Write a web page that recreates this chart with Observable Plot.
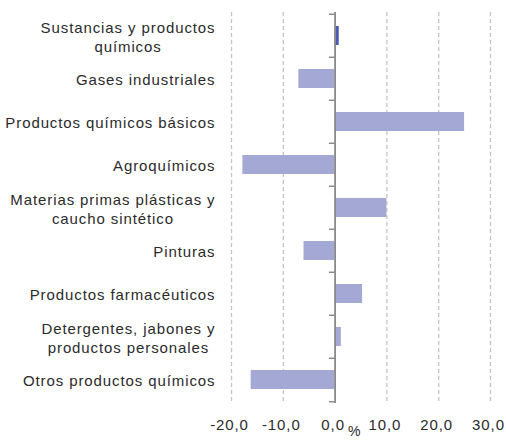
<!DOCTYPE html>
<html><head><meta charset="utf-8">
<script src="https://cdn.jsdelivr.net/npm/d3@7"></script>
<script src="https://cdn.jsdelivr.net/npm/@observablehq/plot@0.6"></script>
<style>body{margin:0;background:#fff} #chart svg{display:block}</style>
</head><body><div id="chart"></div>
<script>
const categories = [
  "Sustancias y productos\nquímicos",
  "Gases industriales",
  "Productos químicos básicos",
  "Agroquímicos",
  "Materias primas plásticas y\ncaucho sintético",
  "Pinturas",
  "Productos farmacéuticos",
  "Detergentes, jabones y\nproductos personales",
  "Otros productos químicos"
];
const values = [0.8, -7.0, 25.0, -17.8, 10.0, -6.0, 5.3, 1.2, -16.2];
const xTicks = [-20, -10, 0, 10, 20, 30];
const gridTicks = [-20, -10, 10, 20, 30];
const axisLabel = "%";

const data = categories.map((c, i) => ({category: c, value: values[i], total: i === 0}));
const W = 506, H = 441, mt = 12, mb = 38, ml = 231, mr = 16;
const step = (H - mt - mb) / categories.length;
const fmt = d => d.toFixed(1).replace(".", ",");
const axisColor = "#8a8a8a";

const chart = Plot.plot({
  width: W, height: H, marginTop: mt, marginBottom: mb, marginLeft: ml, marginRight: mr,
  style: {fontFamily: "'Liberation Sans', Arial, sans-serif", fontSize: "15px", color: "#2b2b2b", background: "#fff", letterSpacing: "0.9px"},
  x: {domain: [-20, 30]},
  y: {domain: categories, paddingInner: 0.56, paddingOuter: 0.28},
  marks: [
    Plot.ruleX(gridTicks, {stroke: "#c4c4c4", strokeWidth: 1.3, strokeDasharray: "4,3"}),
    Plot.barX(data, {x: "value", y: "category", fill: d => d.total ? "#4b5bb1" : "#a4a8d5"}),
    Plot.ruleX([0], {stroke: axisColor, strokeWidth: 1.8}),
    Plot.ruleY(categories, {y: d => d, x1: -1.1, x2: 0, dy: -step / 2, stroke: axisColor, strokeWidth: 1.5}),
    Plot.ruleY(categories.slice(-1), {y: d => d, x1: -1.1, x2: 0, dy: step / 2, stroke: axisColor, strokeWidth: 1.5}),
    Plot.axisY({tickSize: 0, tickPadding: 16, lineHeight: 1.27, label: null, fontSize: 15}),
    Plot.axisX(xTicks, {tickSize: 0, tickPadding: 16, tickFormat: fmt, label: null, fontSize: 15, dx: -2}),
    Plot.text([axisLabel], {x: 3.8, frameAnchor: "bottom", lineAnchor: "middle", dy: 28, fontSize: 14})
  ]
});
document.getElementById("chart").append(chart);
chart.querySelectorAll('g[aria-label="y-axis tick label"] text').forEach(t => {
  if (t.querySelectorAll("tspan").length > 1) {
    const bb = t.getBBox();
    t.setAttribute("text-anchor", "middle");
    t.setAttribute("transform", (t.getAttribute("transform") || "") + ` translate(${-bb.width / 2},0)`);
  }
});
</script>
</body></html>
